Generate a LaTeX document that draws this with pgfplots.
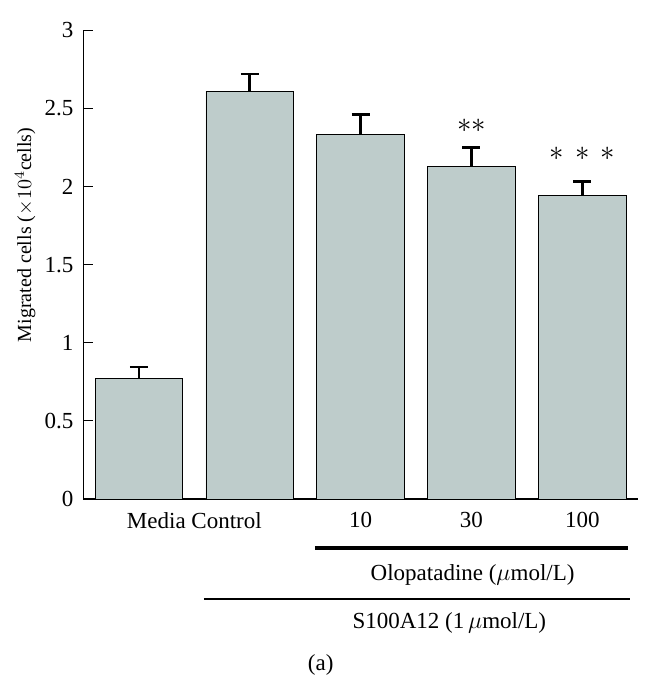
\documentclass[border=0pt]{standalone}
\usepackage{pgfplots}
\pgfplotsset{compat=1.18}
\usepackage{fontspec}
\setmainfont{Liberation Serif}
\definecolor{barfill}{RGB}{190,204,203}
\begin{document}
\begin{tikzpicture}
\begin{axis}[
  scale only axis,
  width=277.25pt, height=234.5pt,
  xmin=-0.5, xmax=4.5, ymin=0, ymax=3,
  axis x line*=bottom, axis y line*=left,
  axis line style={line width=0.6pt, -},
  ytick={0,0.5,1,1.5,2,2.5,3},
  yticklabels={0,0.5,1,1.5,2,2.5,3},
  tick align=inside,
  major tick length=5pt,
  ytick style={line width=0.6pt, black},
  xtick={0.5,2,3,4},
  xticklabels={Media Control,10,30,100},
  xtick style={draw=none},
  xticklabel style={yshift=-3pt},
  yticklabel style={xshift=-1.5pt},
  tick label style={font=\fontsize{11.5}{13}\selectfont},
  /pgf/number format/assume math mode=true,
  clip=false,
]
\addplot[ybar, bar width=0.79, fill=barfill, draw=black, line width=0.4pt,
  error bars/.cd, y dir=plus, y explicit,
  error mark options={rotate=90, mark size=4.5pt, line width=1.4pt},
  error bar style={line width=1.4pt}]
  coordinates {
    (0,0.774) +- (0,0.071)
    (1,2.610) +- (0,0.110)
    (2,2.330) +- (0,0.130)
    (3,2.130) +- (0,0.120)
    (4,1.940) +- (0,0.090)
  };
\node at (axis cs:3,2.39) {\Large$\ast\ast$};
\node at (axis cs:4,2.21) {\Large$\ast\,\ast\,\ast$};
\draw[line width=1.6pt] (axis cs:1.587,-0.313) -- (axis cs:4.41,-0.313);
\draw[line width=0.6pt] (axis cs:0.586,-0.64) -- (axis cs:4.43,-0.64);
\node[font=\fontsize{11.5}{13}\selectfont] at (axis cs:3.01,-0.486) {Olopatadine ($\mu$mol/L)};
\node[font=\fontsize{11.5}{13}\selectfont] at (axis cs:2.80,-0.793) {S100A12 (1\,$\mu$mol/L)};
\node[font=\fontsize{11.5}{13}\selectfont] at (axis cs:1.64,-1.062) {(a)};
\node[rotate=90, font=\fontsize{10}{12}\selectfont] at (axis cs:-1.027,1.69) {Migrated cells ($\times10^4$cells)};
\coordinate (bbsw) at (axis cs:-1.253,-1.171);
\coordinate (bbne) at (axis cs:4.635,3.193);
\end{axis}
\pgfresetboundingbox
\path[use as bounding box] (bbsw) rectangle (bbne);
\end{tikzpicture}
\end{document}
